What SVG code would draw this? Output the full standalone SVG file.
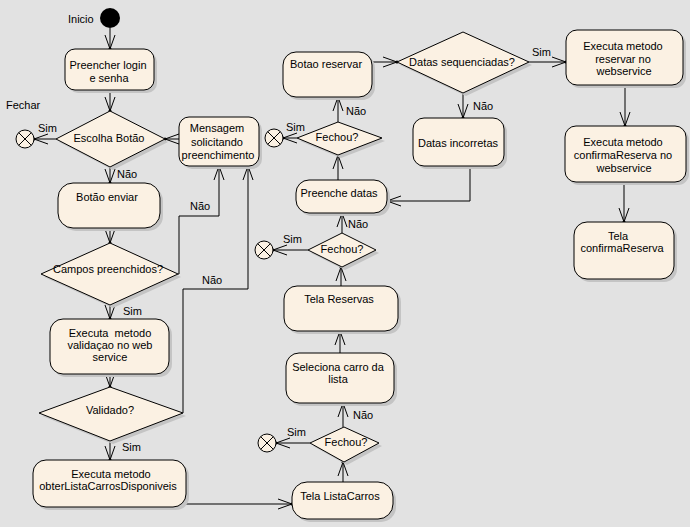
<svg xmlns="http://www.w3.org/2000/svg" width="690" height="527" viewBox="0 0 690 527">
<defs>
<style>
text{font-family:"Liberation Sans",Arial,sans-serif;font-size:11px;fill:#000}
.c{text-anchor:middle}
.n{fill:#fbf1e3;stroke:#000;stroke-width:1}
.s{fill:#c4c4c4;stroke:none}
.e{stroke:#000;stroke-width:1;fill:none;marker-end:url(#a)}
.x{fill:#fbf1e3;stroke:#000;stroke-width:1}
.xl{stroke:#000;stroke-width:1}
</style>
<marker id="a" markerUnits="userSpaceOnUse" markerWidth="20" markerHeight="14" viewBox="-15 -7 17 14" refX="0" refY="0" orient="auto">
<path d="M-14,-5 L0,0 L-14,5" fill="none" stroke="#000" stroke-width="1"/>
<circle cx="0" cy="0" r="1.6" fill="#000"/>
</marker>
</defs>
<rect width="690" height="527" fill="#e2e2e2"/>

<g id="connectors">
<path class="e" d="M110,28 V49"/>
<path class="e" d="M110,90 V111"/>
<path class="e" d="M56,139 H34"/>
<path class="e" d="M179,139 H165"/>
<path class="e" d="M110,167 V183"/>
<path class="e" d="M110,228 V243"/>
<path class="e" d="M178,274 H179 V216 H219 V166"/>
<path class="e" d="M110,305 V319"/>
<path class="e" d="M110,374 V387"/>
<path class="e" d="M183,413 V289 H248 V166"/>
<path class="e" d="M110,441 V460"/>
<path class="e" d="M186,504 H292"/>
<path class="e" d="M343,482 V462"/>
<path class="e" d="M310,443 H276"/>
<path class="e" d="M343,427 V403"/>
<path class="e" d="M340,353 V331"/>
<path class="e" d="M341,286 V267"/>
<path class="e" d="M308,250 H273"/>
<path class="e" d="M342,233 V213"/>
<path class="e" d="M470,166 V201 H387"/>
<path class="e" d="M338,180 V155"/>
<path class="e" d="M297,138 H283"/>
<path class="e" d="M338,122 V97"/>
<path class="e" d="M372,62 H397"/>
<path class="e" d="M529,62 H566"/>
<path class="e" d="M463,93 V118"/>
<path class="e" d="M625,85 V126"/>
<path class="e" d="M624,182 V222"/>
<text x="6" y="109">Fechar</text>
<text x="38" y="132">Sim</text>
<text x="117" y="178">Não</text>
<text x="190" y="210">Não</text>
<text x="202" y="284">Não</text>
<text x="123" y="315">Sim</text>
<text x="122" y="451">Sim</text>
<text x="287" y="436">Sim</text>
<text x="353" y="419">Não</text>
<text x="283" y="243">Sim</text>
<text x="348" y="228">Não</text>
<text x="286" y="131">Sim</text>
<text x="346" y="115">Não</text>
<text x="532" y="56">Sim</text>
<text x="473" y="110">Não</text>
</g>

<g id="inicio">
<circle cx="110" cy="18" r="10" fill="#000"/>
<text x="68" y="23">Inicio</text>
</g>

<g id="preencher">
<rect class="s" x="68" y="52" width="89" height="41" rx="10"/>
<rect class="n" x="65" y="49" width="89" height="41" rx="10"/>
<text class="c" x="108" y="69">Preencher login</text>
<text class="c" x="109" y="82">e senha</text>
</g>

<g id="fechar1">
<circle class="x" cx="25" cy="139" r="9"/>
<path class="xl" d="M18.6,132.6 L31.4,145.4 M31.4,132.6 L18.6,145.4"/>
</g>

<g id="escolha">
<polygon class="s" points="113,114 168,142 113,170 59,142"/>
<polygon class="n" points="110,111 165,139 110,167 56,139"/>
<text class="c" x="109" y="142">Escolha Botão</text>
</g>

<g id="mensagem">
<rect class="s" x="182" y="120" width="80" height="49" rx="10"/>
<rect class="n" x="179" y="117" width="80" height="49" rx="10"/>
<text class="c" x="217" y="132">Mensagem</text>
<text class="c" x="217" y="146">solicitando</text>
<text class="c" x="218" y="159">preenchimento</text>
</g>

<g id="botao-enviar">
<rect class="s" x="61" y="186" width="102" height="45" rx="15"/>
<rect class="n" x="58" y="183" width="102" height="45" rx="15"/>
<text class="c" x="107" y="201">Botão enviar</text>
</g>

<g id="campos">
<polygon class="s" points="113,246 181,277 113,308 44,277"/>
<polygon class="n" points="110,243 178,274 110,305 41,274"/>
<text class="c" x="108" y="273">Campos preenchidos?</text>
</g>

<g id="validacao">
<rect class="s" x="53" y="322" width="119" height="55" rx="13"/>
<rect class="n" x="50" y="319" width="119" height="55" rx="13"/>
<text class="c" x="110" y="337">Executa&#160;&#160;metodo</text>
<text class="c" x="110" y="349">validaçao no web</text>
<text class="c" x="110" y="361">service</text>
</g>

<g id="validado">
<polygon class="s" points="113,390 186,416 113,444 42,416"/>
<polygon class="n" points="110,387 183,413 110,441 39,413"/>
<text class="c" x="110" y="414">Validado?</text>
</g>

<g id="obter-lista">
<rect class="s" x="36" y="463" width="153" height="47" rx="13"/>
<rect class="n" x="33" y="460" width="153" height="47" rx="13"/>
<text class="c" x="111" y="478">Executa metodo</text>
<text class="c" x="108" y="490">obterListaCarrosDisponiveis</text>
</g>

<g id="tela-listacarros">
<rect class="s" x="295" y="485" width="101" height="37" rx="15"/>
<rect class="n" x="292" y="482" width="101" height="37" rx="15"/>
<text class="c" x="340" y="500">Tela ListaCarros</text>
</g>

<g id="fechou3">
<polygon class="s" points="347,430 382,446 347,465 313,446"/>
<polygon class="n" points="344,427 379,443 344,462 310,443"/>
<text class="c" x="346" y="446">Fechou?</text>
</g>

<g id="fechar4">
<circle class="x" cx="267" cy="443" r="9"/>
<path class="xl" d="M260.6,436.6 L273.4,449.4 M273.4,436.6 L260.6,449.4"/>
</g>

<g id="seleciona">
<rect class="s" x="289" y="356" width="108" height="50" rx="13"/>
<rect class="n" x="286" y="353" width="108" height="50" rx="13"/>
<text class="c" x="338" y="371">Seleciona carro da</text>
<text class="c" x="338" y="383">lista</text>
</g>

<g id="tela-reservas">
<rect class="s" x="287" y="289" width="114" height="45" rx="13"/>
<rect class="n" x="284" y="286" width="114" height="45" rx="13"/>
<text class="c" x="339" y="303">Tela Reservas</text>
</g>

<g id="fechou2">
<polygon class="s" points="345,236 379,253 345,270 311,253"/>
<polygon class="n" points="342,233 376,250 342,267 308,250"/>
<text class="c" x="342" y="253">Fechou?</text>
</g>

<g id="fechar3">
<circle class="x" cx="264" cy="250" r="9"/>
<path class="xl" d="M257.6,243.6 L270.4,256.4 M270.4,243.6 L257.6,256.4"/>
</g>

<g id="preenche-datas">
<rect class="s" x="299" y="183" width="91" height="33" rx="13"/>
<rect class="n" x="296" y="180" width="91" height="33" rx="13"/>
<text class="c" x="339" y="197">Preenche datas</text>
</g>

<g id="fechou1">
<polygon class="s" points="341,125 385,141 341,158 300,141"/>
<polygon class="n" points="338,122 382,138 338,155 297,138"/>
<text class="c" x="337" y="141">Fechou?</text>
</g>

<g id="fechar2">
<circle class="x" cx="274" cy="138" r="9"/>
<path class="xl" d="M267.6,131.6 L280.4,144.4 M280.4,131.6 L267.6,144.4"/>
</g>

<g id="botao-reservar">
<rect class="s" x="286" y="55" width="89" height="45" rx="13"/>
<rect class="n" x="283" y="52" width="89" height="45" rx="13"/>
<text class="c" x="326" y="68">Botao reservar</text>
</g>

<g id="datas-seq">
<polygon class="s" points="466,35 532,65 466,96 400,65"/>
<polygon class="n" points="463,32 529,62 463,93 397,62"/>
<text class="c" x="462" y="66">Datas sequenciadas?</text>
</g>

<g id="datas-incorretas">
<rect class="s" x="416" y="121" width="91" height="48" rx="11"/>
<rect class="n" x="413" y="118" width="91" height="48" rx="11"/>
<text class="c" x="458" y="147">Datas incorretas</text>
</g>

<g id="reservar-ws">
<rect class="s" x="569" y="33" width="117" height="55" rx="11"/>
<rect class="n" x="566" y="30" width="117" height="55" rx="11"/>
<text class="c" x="623" y="50">Executa metodo</text>
<text class="c" x="623" y="63">reservar no</text>
<text class="c" x="624" y="75">webservice</text>
</g>

<g id="confirma-ws">
<rect class="s" x="568" y="129" width="121" height="56" rx="11"/>
<rect class="n" x="565" y="126" width="121" height="56" rx="11"/>
<text class="c" x="623" y="146">Executa metodo</text>
<text class="c" x="623" y="159">confirmaReserva no</text>
<text class="c" x="624" y="172">webservice</text>
</g>

<g id="tela-confirma">
<rect class="s" x="577" y="225" width="100" height="57" rx="13"/>
<rect class="n" x="574" y="222" width="100" height="57" rx="13"/>
<text class="c" x="618" y="240">Tela</text>
<text class="c" x="622" y="252">confirmaReserva</text>
</g>
</svg>
